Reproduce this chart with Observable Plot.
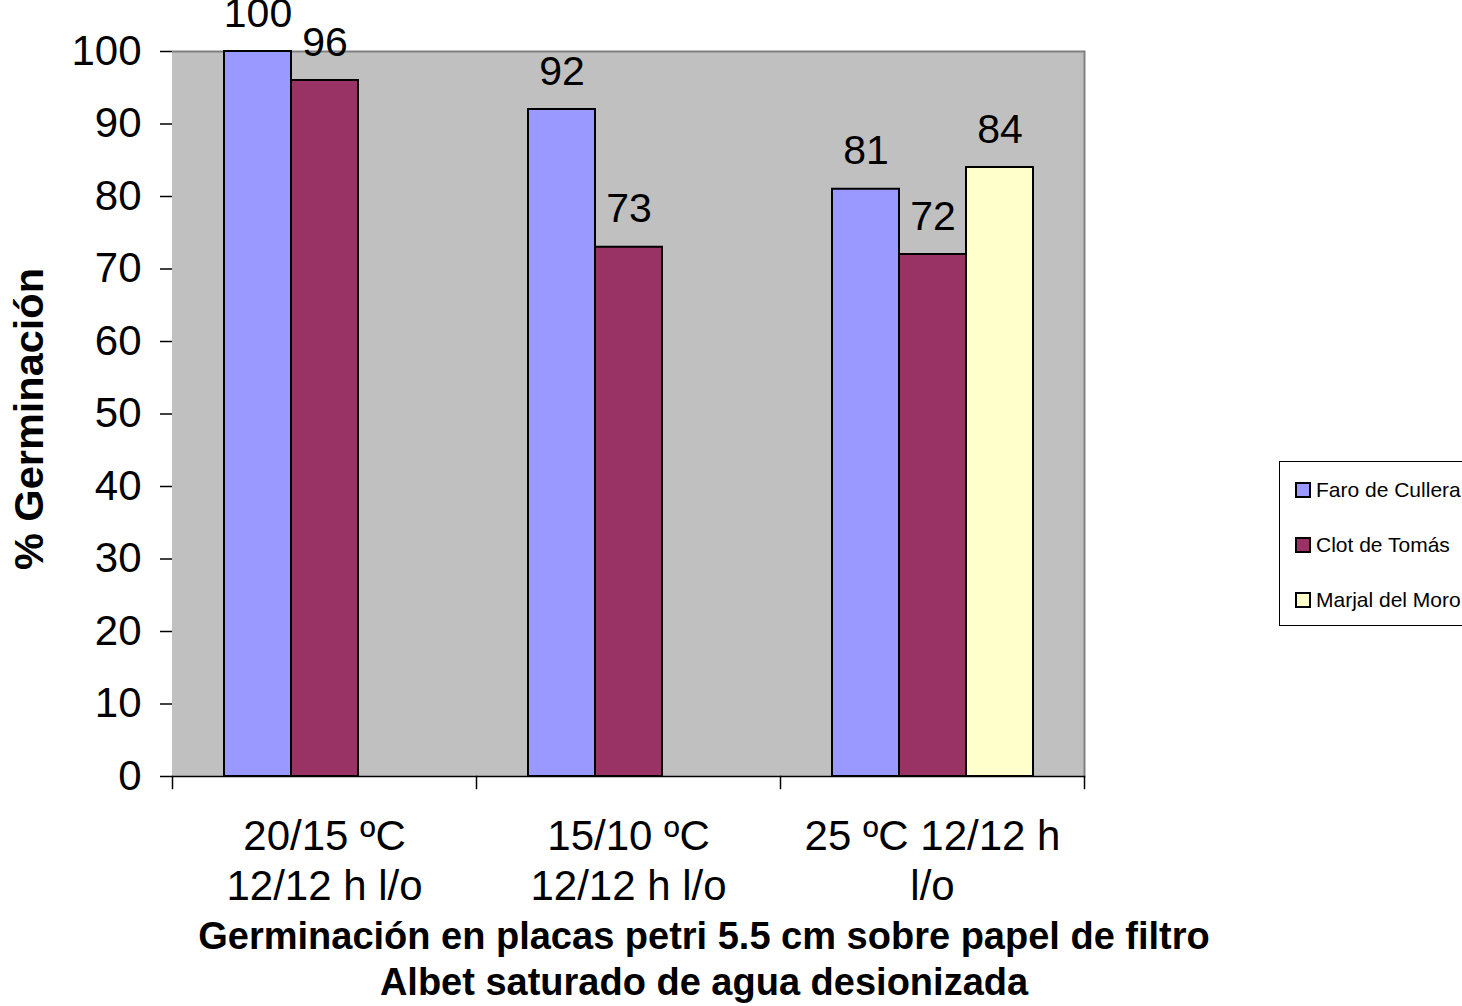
<!DOCTYPE html>
<html><head><meta charset="utf-8">
<script src="https://cdn.jsdelivr.net/npm/d3@7"></script>
<script src="https://cdn.jsdelivr.net/npm/@observablehq/plot@0.6"></script>
<style>
body{margin:0;background:#fff;overflow:hidden;font-family:Arial,"Liberation Sans",sans-serif;color:#000;}
#wrap{position:relative;width:1462px;height:1006px;overflow:hidden;}
#chart{position:absolute;left:0;top:0;}
#caption{position:absolute;left:104px;width:1200px;top:913px;text-align:center;font-weight:bold;font-size:38px;line-height:46px;}
#legend{position:absolute;left:1279px;top:461px;width:200px;height:165px;border:1px solid #000;background:#fff;box-sizing:border-box;}
.item{position:absolute;left:15px;height:26px;display:flex;align-items:center;font-size:21px;white-space:nowrap;}
.sw{width:12px;height:12px;border:2px solid #000;margin-right:5px;flex:none;}
</style></head><body><div id="wrap"><div id="chart"></div><div id="caption"></div><div id="legend"></div></div>
<script>
const categories = ["20/15 ºC\n12/12 h l/o", "15/10 ºC\n12/12 h l/o", "25 ºC 12/12 h\nl/o"];
const series = ["Faro de Cullera", "Clot de Tomás", "Marjal del Moro"];
const faroValues = [100, 92, 81];
const clotValues = [96, 73, 72];
const marjalValues = [null, null, 84];
const colors = ["#9999FF", "#993366", "#FFFFCC"];
const yTicks = [0, 10, 20, 30, 40, 50, 60, 70, 80, 90, 100];
const yLabel = "% Germinación";
const xCaption = ["Germinación en placas petri 5.5 cm sobre papel de filtro", "Albet saturado de agua desionizada"];

const valuesBySeries = [faroValues, clotValues, marjalValues];
const rows = [];
categories.forEach((cat, i) => {
  series.forEach((s, j) => {
    const v = valuesBySeries[j][i];
    if (v != null) rows.push({cat, series: s, value: v});
  });
});

const W = 1462, H = 910;
const mT = 51, mL = 172, mR = W - 1084, mB = H - 776;
const plotH = H - mT - mB;

const chart = Plot.plot({
  width: W, height: H,
  marginTop: mT, marginBottom: mB, marginLeft: mL, marginRight: mR,
  style: {fontFamily: "Arial, 'Liberation Sans', sans-serif", fontSize: "42px", color: "#000", background: "transparent", overflow: "visible"},
  fx: {domain: categories, padding: 0, label: null},
  x: {domain: series, paddingInner: 0, paddingOuter: 0.752, axis: null},
  y: {domain: [0, 100], label: null},
  color: {domain: series, range: colors},
  marks: [
    Plot.frame({fill: "#C0C0C0", stroke: "#C0C0C0", strokeWidth: 1}),
    Plot.ruleY([100], {stroke: "#808080", strokeWidth: 2}),
    Plot.frame({anchor: "right", facetAnchor: "right", stroke: "#808080", strokeWidth: 2}),
    Plot.barY(rows, {fx: "cat", x: "series", y: "value", fill: "series", stroke: "#000", strokeWidth: 2}),
    Plot.text(rows, {fx: "cat", x: "series", y: "value", text: d => String(d.value), lineAnchor: "bottom", dy: -25, fontSize: 41, fill: "#000"}),
    Plot.ruleY([0], {stroke: "#000", strokeWidth: 1.5}),
    Plot.frame({anchor: "left", insetTop: plotH, insetBottom: -12, stroke: "#000", strokeWidth: 1.5}),
    Plot.frame({anchor: "right", facetAnchor: "right", insetTop: plotH, insetBottom: -12, stroke: "#000", strokeWidth: 1.5}),
    Plot.axisY({ticks: yTicks, tickSize: 12, tickPadding: 19, tickFormat: d => String(d), label: null, fontSize: 42, line: true, strokeWidth: 1.5}),
    Plot.axisFx({anchor: "bottom", tickSize: 0, tickPadding: 38, lineHeight: 1.19, fontSize: 42, label: null}),
    Plot.text([{cat: categories[0], t: yLabel}], {fx: "cat", text: "t", frameAnchor: "left", textAnchor: "middle", lineAnchor: "middle", rotate: -90, dx: -143, dy: 5, fontWeight: "bold", fontSize: 41.5, fill: "#000"})
  ]
});
document.getElementById("chart").append(chart);

document.getElementById("caption").innerHTML = xCaption.map(s => `<div>${s}</div>`).join("");

const legend = document.getElementById("legend");
series.forEach((s, i) => {
  const item = document.createElement("div");
  item.className = "item";
  item.style.top = (15 + i * 55) + "px";
  const sw = document.createElement("span");
  sw.className = "sw";
  sw.style.background = colors[i];
  const t = document.createElement("span");
  t.textContent = s;
  item.append(sw, t);
  legend.append(item);
});
</script></body></html>
